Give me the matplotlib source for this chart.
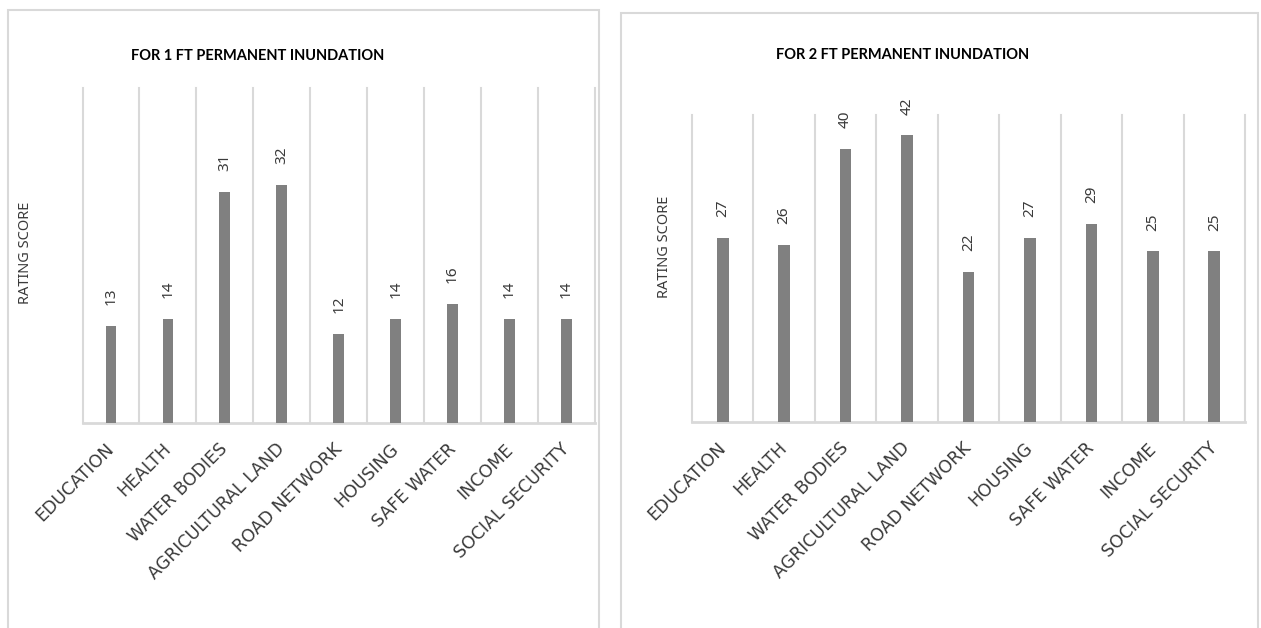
import numpy as np
import matplotlib.pyplot as plt
from matplotlib.patches import Rectangle
from matplotlib.transforms import ScaledTranslation

# rating scores per sector, two inundation depths
sectors = ['EDUCATION', 'HEALTH', 'WATER BODIES', 'AGRICULTURAL LAND', 'ROAD NETWORK',
           'HOUSING', 'SAFE WATER', 'INCOME', 'SOCIAL SECURITY']
score_1ft = [13, 14, 31, 32, 12, 14, 16, 14, 14]
score_2ft = [27, 26, 40, 42, 22, 27, 29, 25, 25]
titles = ['FOR 1 FT PERMANENT INUNDATION', 'FOR 2 FT PERMANENT INUNDATION']

W, H = 1261, 628
grid_c = '#d9d9d9'
bar_c = '#808080'
txt_c = '#3a3a3a'

fig = plt.figure(figsize=(W / 100, H / 100), dpi=100)

def px(x0, y0, x1, y1):
    # pixel box (top-left origin) -> figure fraction rect
    return [x0 / W, (H - y1) / H, (x1 - x0) / W, (y1 - y0) / H]

# panel frames
for (x0, x1, y0) in [(8, 599, 10), (621, 1258, 13)]:
    fig.patches.append(Rectangle((x0 / W, -0.05), (x1 - x0) / W, (H - y0) / H + 0.05,
                                 transform=fig.transFigure, fill=False,
                                 edgecolor=grid_c, lw=1.5))

panels = [
    dict(vals=score_1ft, rect=px(82.5, 88, 595, 423), title_xy=(258, 56), ylab=(26, 253)),
    dict(vals=score_2ft, rect=px(692, 115, 1245, 422), title_xy=(903, 55), ylab=(664, 247)),
]

# category labels hang below the baseline, ending just left of the bar centre
lbl_off = ScaledTranslation(-6 / 100, -17 / 100, fig.dpi_scale_trans)

for p, title in zip(panels, titles):
    ax = fig.add_axes(p['rect'])
    x = np.arange(len(sectors))
    bars = ax.bar(x, p['vals'], width=0.19, color=bar_c, zorder=3)
    for b, v in zip(bars, p['vals']):
        ax.annotate(f'{v:.0f}', (b.get_x() + b.get_width() / 2, b.get_height()),
                    xytext=(0, 15), textcoords='offset points', rotation=90,
                    ha='center', va='bottom', fontsize=11, family='Noto Sans',
                    color=txt_c)
    ax.set_xlim(-0.5, len(sectors) - 0.5)
    ax.set_ylim(0, 45)
    for s in ['left', 'right', 'top']:
        ax.spines[s].set_visible(False)
    ax.spines['bottom'].set_color(grid_c)
    ax.spines['bottom'].set_linewidth(2)
    for gx in np.arange(-0.5, len(sectors), 1):
        ax.axvline(gx, color=grid_c, lw=1.5, zorder=1, clip_on=False)
    ax.set_yticks([])
    ax.set_xticks([])
    for xi, name in zip(x, sectors):
        ax.text(xi, 0, name, transform=ax.get_xaxis_transform() + lbl_off,
                rotation=45, rotation_mode='anchor', ha='right', va='top',
                fontsize=12.5, family='DejaVu Sans', color=txt_c)
    fig.text(p['title_xy'][0] / W, 1 - p['title_xy'][1] / H, title, ha='center', va='center',
             fontsize=10.5, fontweight='bold', family='Lato', color='black')
    fig.text(p['ylab'][0] / W, 1 - p['ylab'][1] / H, 'RATING SCORE', rotation=90, ha='center',
             va='center', fontsize=10.5, family='Noto Sans', color=txt_c)

fig.savefig('out.png', dpi=100)
